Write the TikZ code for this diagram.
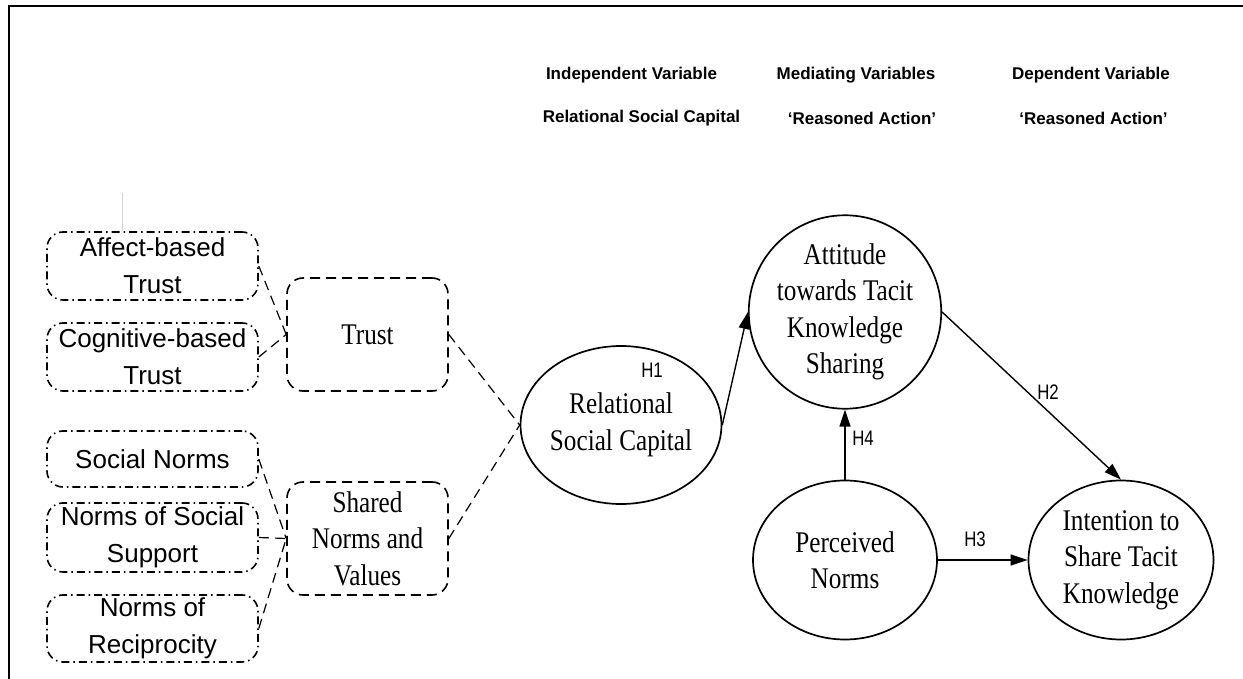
\documentclass[tikz,border=0pt]{standalone}
\usepackage{fontspec}
\setmainfont{Liberation Serif}
\newfontfamily\serifc{Liberation Serif}[FakeStretch=0.84]
\newfontfamily\sansf{Liberation Sans}
\newfontfamily\sansn{Liberation Sans}[FakeStretch=0.8]
\usetikzlibrary{shapes.geometric,arrows.meta}
\begin{document}
\begin{tikzpicture}[x=1pt,y=-1pt,
 subbox/.style={draw,rounded corners=16pt,line width=1.6pt,dash pattern=on 8pt off 4pt on 1.5pt off 4pt,minimum width=211pt,align=center,font=\sansf\fontsize{26}{37}\selectfont,inner sep=0pt},
 dimbox/.style={draw,rounded corners=16pt,line width=1.6pt,dash pattern=on 10pt off 6pt,minimum width=161pt,minimum height=113pt,align=center,font=\serifc\fontsize{30}{36.5}\selectfont,inner sep=0pt},
 latent/.style={draw,ellipse,line width=1.7pt,inner sep=0pt,align=center,font=\serifc\fontsize{30}{36.5}\selectfont},
 dlink/.style={line width=1.2pt,dash pattern=on 10pt off 6pt},
 hyp/.style={line width=1.4pt,-{Triangle[length=17pt,width=11pt]}},
 hlabel/.style={font=\sansn\fontsize{21}{21}\selectfont,inner sep=0pt},
 head/.style={font=\sansf\bfseries\fontsize{17}{17}\selectfont,inner sep=0pt}]
\useasboundingbox (0,0) rectangle (1243,679);
% frame
\coordinate (tl) at (9,6);
\draw[line width=2.2pt] (9,679) -- (tl) -- (1243,6);
% headers
\node[head] (h1) at (631.5,75) {Independent Variable};
\node[head] (h2) at (856,75) {Mediating Variables};
\node[head] (h3) at (1091,75) {Dependent Variable};
\node[head] (s1) at (641.5,118) {Relational Social Capital};
\node[head] (s2) at (862,118) {‘Reasoned Action’};
\node[head] (s3) at (1093.5,118) {‘Reasoned Action’};
% sub-dimension boxes
\node[subbox,minimum height=68pt] (aff) at (152.5,266) {Affect-based\\Trust};
\node[subbox,minimum height=68pt] (cog) at (152.5,357) {Cognitive-based\\Trust};
\node[subbox,minimum height=56pt] (soc) at (152.5,459) {Social Norms};
\node[subbox,minimum height=69pt] (sup) at (152.5,537.5) {Norms of Social\\Support};
\node[subbox,minimum height=67pt] (rec) at (152.5,628.5) {Norms of\\Reciprocity};
% dimension boxes
\node[dimbox] (trust) at (367.5,334.5) {Trust};
\node[dimbox] (shared) at (367.5,538.5) {Shared\\Norms and\\Values};
% latent constructs
\node[latent,minimum width=191pt,minimum height=158pt] (rel) at (621,425) {Relational\\Social Capital};
\node[latent,minimum width=184pt,minimum height=158pt] (att) at (845,312) {Attitude\\towards Tacit\\Knowledge\\Sharing};
\node[latent,minimum width=184pt,minimum height=159pt] (perc) at (845,560) {Perceived\\Norms};
\node[latent,minimum width=185pt,minimum height=159pt] (int) at (1121,560) {Intention to\\Share Tacit\\Knowledge};
% stray mark
\coordinate (stray) at (122,193);
\draw[gray!35,line width=1pt] (stray) -- (stray |- aff.north);
% dashed links
\draw[dlink] (aff.east) -- (trust.west);
\draw[dlink] (cog.east) -- (trust.west);
\draw[dlink] (soc.east) -- (shared.west);
\draw[dlink] (sup.east) -- (shared.west);
\draw[dlink] (rec.east) -- (shared.west);
\draw[dlink] (trust.east) -- (rel.west);
\draw[dlink] (shared.east) -- (rel.west);
% hypotheses
\draw[hyp] (rel.east) -- (att.west);
\draw[hyp] (att.east) -- (int.north);
\draw[hyp] (perc.east) -- (int.west);
\draw[hyp] (perc.north) -- (att.south);
\node[hlabel] (l1) at (652,370) {H1};
\node[hlabel] (l2) at (1048,392) {H2};
\node[hlabel] (l3) at (975,539) {H3};
\node[hlabel] (l4) at (863,438) {H4};
\end{tikzpicture}
\end{document}
